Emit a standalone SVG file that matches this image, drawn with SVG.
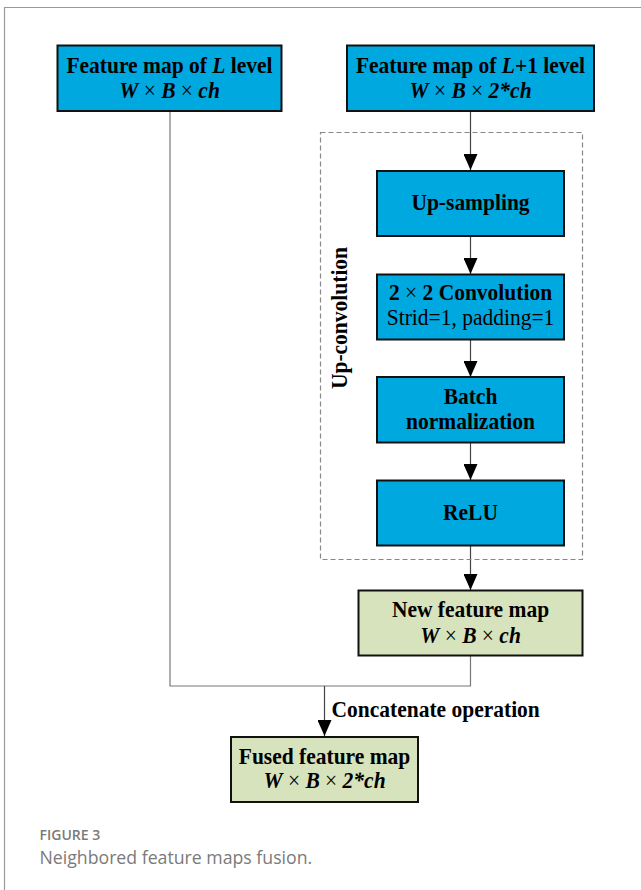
<svg xmlns="http://www.w3.org/2000/svg" width="641" height="890" viewBox="0 0 641 890">
<style>
.blue{fill:#00A8E0;stroke:#111;stroke-width:2}
.green{fill:#D7E3BC;stroke:#111;stroke-width:2}
.t{font-family:"Liberation Serif","Times New Roman",serif;font-size:23px;font-weight:bold;fill:#000;text-anchor:middle}
.r{font-weight:normal}
.i{font-style:italic}
.ln{fill:none;stroke:#444;stroke-width:1.2}
.ln2{fill:none;stroke:#777;stroke-width:1.2}
.cap{font-family:"Open Sans","Noto Sans",sans-serif;fill:#7a7a7a}
</style>
<defs>
<marker id="a" markerUnits="userSpaceOnUse" markerWidth="16" markerHeight="14" viewBox="0 0 16 14" refX="16" refY="7" orient="auto">
<path d="M0 0 L16 7 L0 14 Z" fill="#000"/>
</marker>
</defs>
<rect width="641" height="890" fill="#fff"/>
<path d="M4.5 890 V7.5 H641" fill="none" stroke="#999" stroke-width="1.2"/>
<g id="connectors">
<path class="ln2" d="M170 111 V686 H470.5 V656"/>
<path class="ln" d="M470.5 111 V170" marker-end="url(#a)"/>
<path class="ln" d="M470.5 236 V274" marker-end="url(#a)"/>
<path class="ln" d="M470.5 340 V377" marker-end="url(#a)"/>
<path class="ln" d="M470.5 443 V480" marker-end="url(#a)"/>
<path class="ln" d="M470.5 546 V590" marker-end="url(#a)"/>
<path class="ln" d="M324.5 686 V736" marker-end="url(#a)"/>
<text class="t" transform="translate(331.5 716.5) scale(0.935 1)" style="text-anchor:start">Concatenate operation</text>
</g>
<g id="upconv-group">
<rect x="320.5" y="132.5" width="262" height="427" fill="none" stroke="#888" stroke-width="1.2" stroke-dasharray="5,3"/>
<text class="t" transform="translate(347 318) rotate(-90) scale(0.935 1)">Up-convolution</text>
</g>
<g id="node-L">
<rect class="blue" x="57.5" y="45.5" width="224" height="65.5"/>
<text class="t" transform="translate(169.5 72.5) scale(0.935 1)">Feature map of <tspan class="i">L</tspan> level</text>
<text class="t" transform="translate(169.5 97.5) scale(0.935 1)"><tspan class="i">W</tspan><tspan class="r"> × </tspan><tspan class="i">B</tspan><tspan class="r"> × </tspan><tspan class="i">ch</tspan></text>
</g>
<g id="node-L1">
<rect class="blue" x="347" y="45.5" width="247" height="65.5"/>
<text class="t" transform="translate(470.5 72.5) scale(0.935 1)">Feature map of <tspan class="i">L</tspan>+1 level</text>
<text class="t" transform="translate(470.5 97.5) scale(0.935 1)"><tspan class="i">W</tspan><tspan class="r"> × </tspan><tspan class="i">B</tspan><tspan class="r"> × </tspan><tspan class="i">2*ch</tspan></text>
</g>
<g id="node-upsampling">
<rect class="blue" x="377" y="171" width="187" height="65"/>
<text class="t" transform="translate(470.5 209.5) scale(0.935 1)">Up-sampling</text>
</g>
<g id="node-conv">
<rect class="blue" x="377" y="274.5" width="187" height="65"/>
<text class="t" transform="translate(470.5 300) scale(0.935 1)">2 <tspan class="r">×</tspan> 2 Convolution</text>
<text class="t r" transform="translate(470.5 325) scale(0.935 1)">Strid=1, padding=1</text>
</g>
<g id="node-bn">
<rect class="blue" x="377" y="377" width="187" height="65.5"/>
<text class="t" transform="translate(470.5 404) scale(0.935 1)">Batch</text>
<text class="t" transform="translate(470.5 429) scale(0.935 1)">normalization</text>
</g>
<g id="node-relu">
<rect class="blue" x="377" y="480.5" width="187" height="65"/>
<text class="t" transform="translate(470.5 519.5) scale(0.935 1)">ReLU</text>
</g>
<g id="node-new">
<rect class="green" x="358.5" y="590.5" width="224" height="65"/>
<text class="t" transform="translate(470.5 616.5) scale(0.935 1)">New feature map</text>
<text class="t" transform="translate(470.5 642.5) scale(0.935 1)"><tspan class="i">W</tspan><tspan class="r"> × </tspan><tspan class="i">B</tspan><tspan class="r"> × </tspan><tspan class="i">ch</tspan></text>
</g>
<g id="node-fused">
<rect class="green" x="231" y="737" width="187" height="65"/>
<text class="t" transform="translate(324.5 763.5) scale(0.935 1)">Fused feature map</text>
<text class="t" transform="translate(324.5 788) scale(0.935 1)"><tspan class="i">W</tspan><tspan class="r"> × </tspan><tspan class="i">B</tspan><tspan class="r"> × </tspan><tspan class="i">2*ch</tspan></text>
</g>
<g id="caption">
<text class="cap" x="39.5" y="840" style="font-size:14px;font-weight:600">FIGURE 3</text>
<text class="cap" x="39.5" y="864" style="font-size:17.7px">Neighbored feature maps fusion.</text>
</g>
</svg>
